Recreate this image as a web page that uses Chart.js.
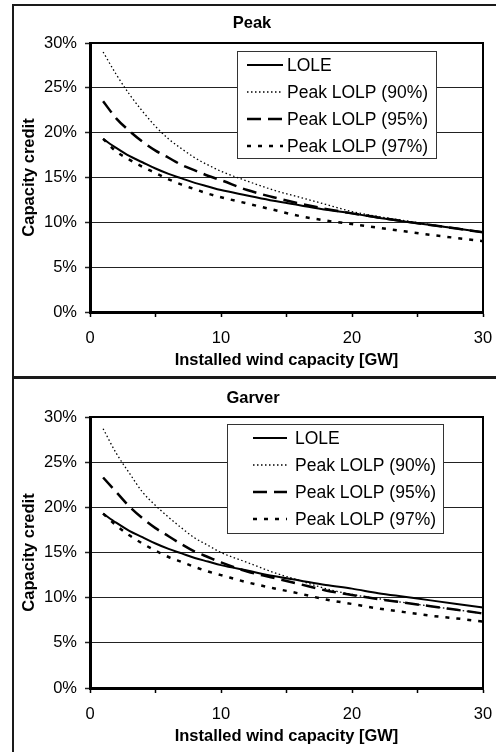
<!DOCTYPE html>
<html lang="en">
  <head>
    <meta charset="UTF-8" />
    <title>Capacity credit of wind</title>
    <script src="https://cdn.jsdelivr.net/npm/chart.js"></script>
    <style>
      body {
        margin: 0;
        background: #fff;
        width: 496px;
        height: 752px;
        overflow: hidden;
        position: relative;
      }
      canvas {
        position: absolute;
        left: 0;
      }
      .frame {
        position: absolute;
        left: 12px;
        width: 500px;
        border: 2px solid #1a1a1a;
        box-sizing: border-box;
        pointer-events: none;
      }
    </style>
  </head>
  <body>
    <canvas id="peak" width="496" height="376" style="top: 0"></canvas>
    <canvas id="garver" width="496" height="376" style="top: 376px"></canvas>
    <div class="frame" style="top: 4px; height: 375px"></div>
    <div class="frame" style="top: 376px; height: 378px"></div>

    <script>
      // installed wind capacity [GW]
      const capacity = [1, 2, 3, 4, 5, 6, 7, 8, 9, 10, 12, 14, 16, 18, 20, 22, 24, 26, 28, 30];

      // capacity credit [%]
      const lole = [19.3, 18.3, 17.4, 16.7, 16.0, 15.4, 14.9, 14.4, 14.0, 13.6, 13.0, 12.4, 11.9, 11.4, 11.0, 10.5, 10.1, 9.7, 9.3, 8.9];

      const peakLolp90 = [29.0, 26.5, 24.3, 22.4, 20.7, 19.3, 18.2, 17.2, 16.4, 15.7, 14.6, 13.6, 12.8, 12.0, 11.2, 10.65, 10.2, 9.75, 9.3, 8.9];
      const peakLolp95 = [23.5, 21.6, 20.2, 19.0, 18.0, 17.2, 16.4, 15.8, 15.2, 14.7, 13.6, 12.8, 12.1, 11.5, 11.0, 10.55, 10.1, 9.7, 9.3, 8.9];
      const peakLolp97 = [19.3, 17.9, 17.0, 16.2, 15.5, 14.8, 14.2, 13.7, 13.2, 12.8, 12.1, 11.4, 10.7, 10.2, 9.8, 9.4, 9.0, 8.6, 8.25, 7.9];

      const garverLolp90 = [28.7, 26.0, 23.8, 21.7, 20.2, 18.9, 17.7, 16.6, 15.8, 15.0, 13.9, 12.8, 11.9, 11.0, 10.35, 9.9, 9.45, 9.05, 8.65, 8.25];
      const garverLolp95 = [23.3, 21.7, 20.1, 18.8, 17.7, 16.8, 15.9, 15.1, 14.5, 13.9, 12.9, 12.2, 11.5, 10.8, 10.3, 9.85, 9.45, 9.05, 8.65, 8.25];
      const garverLolp97 = [19.3, 18.0, 16.9, 16.0, 15.2, 14.5, 13.95, 13.4, 12.9, 12.5, 11.7, 11.05, 10.45, 9.8, 9.3, 8.8, 8.4, 8.0, 7.7, 7.35];

      const seriesLabels = ["LOLE", "Peak LOLP (90%)", "Peak LOLP (95%)", "Peak LOLP (97%)"];

      const FONT = '"Liberation Sans", Arial, sans-serif';
      Chart.defaults.font.family = FONT;
      Chart.defaults.font.size = 16.5;
      Chart.defaults.color = "#000";

      // line looks per series: solid, fine dots, long dash, short dash
      const looks = [
        { borderWidth: 2, borderDash: [] },
        { borderWidth: 1.3, borderDash: [1.5, 2.5] },
        { borderWidth: 2.5, borderDash: [14, 7] },
        { borderWidth: 2.5, borderDash: [4, 7] },
      ];

      // panel heading, placed where the original has it
      const panelTitle = {
        id: "panelTitle",
        afterDraw(chart, args, opts) {
          const { ctx } = chart;
          ctx.save();
          ctx.font = "bold 16.5px " + FONT;
          ctx.fillStyle = "#000";
          ctx.textAlign = "center";
          ctx.textBaseline = "middle";
          ctx.fillText(opts.text, opts.x, opts.y);
          ctx.restore();
        },
      };

      // top and right edge of the plot area
      const plotFrame = {
        id: "plotFrame",
        beforeDatasetsDraw(chart) {
          const { ctx, chartArea: a } = chart;
          ctx.save();
          ctx.strokeStyle = "#000";
          ctx.lineWidth = 2;
          ctx.beginPath();
          ctx.moveTo(a.left, a.top);
          ctx.lineTo(a.right, a.top);
          ctx.lineTo(a.right, a.bottom);
          ctx.stroke();
          ctx.restore();
        },
      };

      // boxed legend sitting inside the plot area
      const boxLegend = {
        id: "boxLegend",
        afterDatasetsDraw(chart, args, opts) {
          const { ctx, chartArea } = chart;
          const x = chartArea.left + opts.left;
          const y = chartArea.top + opts.top;
          ctx.save();
          ctx.fillStyle = "#fff";
          ctx.fillRect(x, y, opts.width, opts.height);
          ctx.strokeStyle = "#333";
          ctx.lineWidth = 1;
          ctx.strokeRect(x + 0.5, y + 0.5, opts.width, opts.height);
          ctx.font = "17.5px " + FONT;
          ctx.textBaseline = "middle";
          chart.data.datasets.forEach((ds, i) => {
            const ry = y + opts.firstRow + i * opts.rowGap;
            ctx.beginPath();
            ctx.setLineDash(ds.borderDash);
            ctx.lineWidth = ds.borderWidth;
            ctx.strokeStyle = ds.borderColor;
            ctx.moveTo(x + opts.sampleStart, ry);
            ctx.lineTo(x + opts.sampleEnd, ry);
            ctx.stroke();
            ctx.setLineDash([]);
            ctx.fillStyle = "#000";
            ctx.fillText(ds.label, x + opts.textStart, ry + 1);
          });
          ctx.restore();
        },
      };

      function makeChart(id, title, series, legendBox, topPad) {
        const datasets = series.map((values, i) => ({
          label: seriesLabels[i],
          data: capacity.map((c, k) => ({ x: c, y: values[k] })),
          borderColor: "#000",
          borderWidth: looks[i].borderWidth,
          borderDash: looks[i].borderDash,
          pointRadius: 0,
          fill: false,
          cubicInterpolationMode: "monotone",
        }));

        return new Chart(document.getElementById(id), {
          type: "line",
          data: { datasets },
          options: {
            responsive: false,
            animation: false,
            layout: { padding: { left: 0, right: 13, top: topPad, bottom: 0 } },
            plugins: {
              legend: { display: false },
              tooltip: { enabled: false },
              title: { display: false },
              panelTitle: title,
              boxLegend: legendBox,
            },
            scales: {
              x: {
                type: "linear",
                min: 0,
                max: 30,
                ticks: {
                  stepSize: 5,
                  autoSkip: false,
                  maxRotation: 0,
                  padding: 12,
                  callback: (v) => (v % 10 === 0 ? v : ""),
                },
                grid: { drawOnChartArea: false, tickLength: 5, color: "#000", tickWidth: 1.5 },
                border: { color: "#000", width: 3 },
                title: {
                  display: true,
                  text: "Installed wind capacity [GW]",
                  font: { size: 16.5, weight: "bold" },
                  padding: { top: 0, bottom: 6 },
                },
                afterFit(s) {
                  s.height = 64;
                  // end labels may hang past the plot, the page has room for them
                  s.paddingLeft = 0;
                  s.paddingRight = 0;
                },
              },
              y: {
                min: 0,
                max: 30,
                ticks: {
                  stepSize: 5,
                  padding: 8,
                  callback: (v) => v + "%",
                },
                grid: { color: "#222", lineWidth: 1, tickLength: 5, tickWidth: 1.5 },
                border: { color: "#000", width: 3 },
                title: {
                  display: true,
                  text: "Capacity credit",
                  font: { size: 16.5, weight: "bold" },
                  padding: { top: 20, bottom: 0 },
                },
                afterFit(s) {
                  s.width = 90;
                },
              },
            },
          },
          plugins: [plotFrame, boxLegend, panelTitle],
        });
      }

      makeChart(
        "peak",
        { text: "Peak", x: 252, y: 23 },
        [lole, peakLolp90, peakLolp95, peakLolp97],
        { left: 147, top: 8, width: 199, height: 107, firstRow: 14, rowGap: 27, sampleStart: 10, sampleEnd: 46, textStart: 50 },
        43
      );

      makeChart(
        "garver",
        { text: "Garver", x: 253, y: 22 },
        [lole, garverLolp90, garverLolp95, garverLolp97],
        { left: 137, top: 7, width: 216, height: 109, firstRow: 14, rowGap: 27, sampleStart: 26, sampleEnd: 60, textStart: 68 },
        41
      );
    </script>
  </body>
</html>
